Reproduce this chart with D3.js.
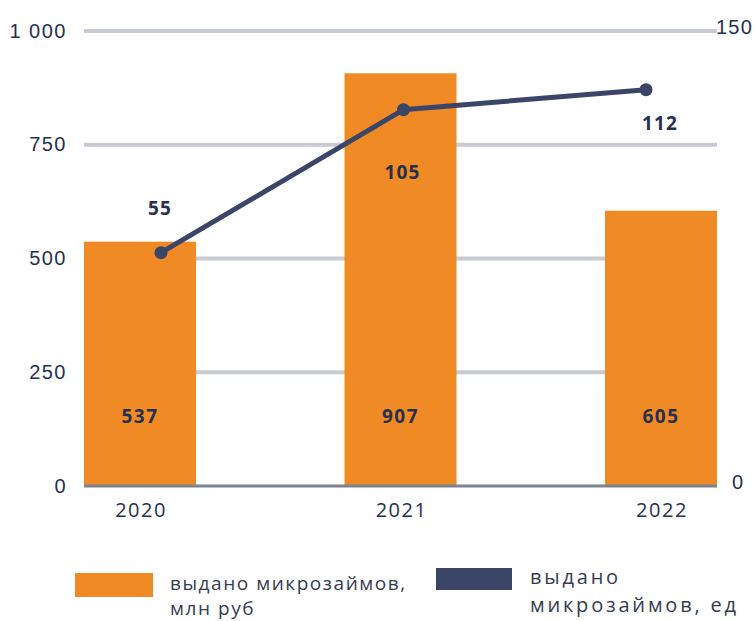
<!DOCTYPE html>
<html>
<head>
<meta charset="utf-8">
<script src="https://cdn.jsdelivr.net/npm/d3@7"></script>
<style>
  body { margin: 0; background: #fff; }
  svg { display: block; font-family: "Open Sans", sans-serif; }
</style>
</head>
<body>
<svg width="755" height="621"></svg>
<script>
const years = ["2020", "2021", "2022"];
const loansRub = [537, 907, 605];     // млн руб
const loansCount = [55, 105, 112];    // ед
const leftTicks = [0, 250, 500, 750, 1000];
const rightTicks = [0, 150];

const svg = d3.select("svg");
const plotL = 84, plotR = 717, plotT = 31, plotB = 486;
const navy = "#263050";
const orange = "#f08a24";

const x = d3.scaleBand().domain(years).range([plotL, plotR]).paddingInner(0.57).paddingOuter(0);
const xLine = d3.scalePoint().domain(years).range([161, 646]);
const y = d3.scaleLinear().domain([0, 1000]).range([plotB, plotT]);
const yRight = d3.scaleLinear().domain([0, 150]).range([plotB, plotT]);
// line series sits on its own offset scale (as in the source chart)
const yLine = d3.scaleLinear().domain([0, 150]).range([410, -19]);

// grid
svg.append("g")
  .selectAll("line")
  .data(leftTicks.filter(d => d > 0))
  .join("line")
  .attr("x1", plotL).attr("x2", plotR)
  .attr("y1", d => y(d)).attr("y2", d => y(d))
  .attr("stroke", "#c9cbd2").attr("stroke-width", 4);

// bars
svg.append("g")
  .selectAll("rect")
  .data(years)
  .join("rect")
  .attr("x", d => x(d))
  .attr("width", x.bandwidth())
  .attr("y", (d, i) => y(loansRub[i]))
  .attr("height", (d, i) => y(0) - y(loansRub[i]))
  .attr("fill", orange);

// baseline
svg.append("line")
  .attr("x1", plotL).attr("x2", plotR)
  .attr("y1", y(0)).attr("y2", y(0))
  .attr("stroke", "#7d838f").attr("stroke-width", 3);

// left axis
const leftAxis = svg.append("g")
  .attr("transform", `translate(67,0)`)
  .call(d3.axisLeft(y).tickValues(leftTicks).tickSize(0).tickPadding(0)
    .tickFormat(d => d === 1000 ? "1 000" : d));
leftAxis.select(".domain").remove();
leftAxis.selectAll("text")
  .attr("font-size", 20).attr("letter-spacing", 1.5).attr("fill", navy).attr("dy", "0.3em");

// right axis
const rightAxis = svg.append("g")
  .attr("transform", `translate(716,0)`)
  .call(d3.axisRight(yRight).tickValues(rightTicks).tickSize(0).tickPadding(0));
rightAxis.select(".domain").remove();
rightAxis.selectAll("text")
  .attr("font-size", 20).attr("letter-spacing", 1.2).attr("fill", navy).attr("dy", "0.1em")
  .attr("x", d => d === 0 ? 16 : 0);

// x axis labels
svg.append("g")
  .selectAll("text")
  .data(years)
  .join("text")
  .attr("x", d => x(d) + x.bandwidth() / 2 + 1)
  .attr("y", 517)
  .attr("text-anchor", "middle")
  .attr("font-size", 20).attr("letter-spacing", 1.5).attr("fill", navy)
  .text(d => d);

// bar value labels
svg.append("g")
  .selectAll("text")
  .data(years)
  .join("text")
  .attr("x", d => x(d) + x.bandwidth() / 2)
  .attr("y", 423)
  .attr("text-anchor", "middle")
  .attr("font-size", 19).attr("letter-spacing", 1.5).attr("font-weight", 700).attr("fill", navy)
  .text((d, i) => loansRub[i]);

// line
const line = d3.line()
  .x((d, i) => xLine(years[i]))
  .y(d => yLine(d));
svg.append("path")
  .datum(loansCount)
  .attr("d", line)
  .attr("fill", "none")
  .attr("stroke", "#3a4567").attr("stroke-width", 5);

svg.append("g")
  .selectAll("circle")
  .data(loansCount)
  .join("circle")
  .attr("cx", (d, i) => xLine(years[i]))
  .attr("cy", d => yLine(d))
  .attr("r", 6.5)
  .attr("fill", "#3a4567");

const lineLabelDy = [-38, 69, 40];
svg.append("g")
  .selectAll("text")
  .data(loansCount)
  .join("text")
  .attr("x", (d, i) => xLine(years[i]) - (i === 2 ? -14 : 1))
  .attr("y", (d, i) => yLine(d) + lineLabelDy[i])
  .attr("text-anchor", "middle")
  .attr("font-size", 19).attr("letter-spacing", 1.2).attr("font-weight", 700).attr("fill", navy)
  .text(d => d);

// legend
const legend = svg.append("g");
legend.append("rect").attr("x", 75).attr("y", 573).attr("width", 78).attr("height", 24).attr("fill", orange);
legend.append("rect").attr("x", 436).attr("y", 568).attr("width", 76).attr("height", 22).attr("fill", "#3a4567");
const legText = [
  { x: 170, y: 590, t: "выдано микрозаймов,", fs: 19, ls: 1.55 },
  { x: 170, y: 615, t: "млн руб", fs: 19, ls: 1.55 },
  { x: 530, y: 584, t: "выдано", fs: 20, ls: 2.8 },
  { x: 530, y: 612, t: "микрозаймов, ед", fs: 20, ls: 2.8 }
];
legend.selectAll("text")
  .data(legText)
  .join("text")
  .attr("x", d => d.x).attr("y", d => d.y)
  .attr("font-size", d => d.fs).attr("letter-spacing", d => d.ls).attr("fill", "#353b52")
  .text(d => d.t);
</script>
</body>
</html>
